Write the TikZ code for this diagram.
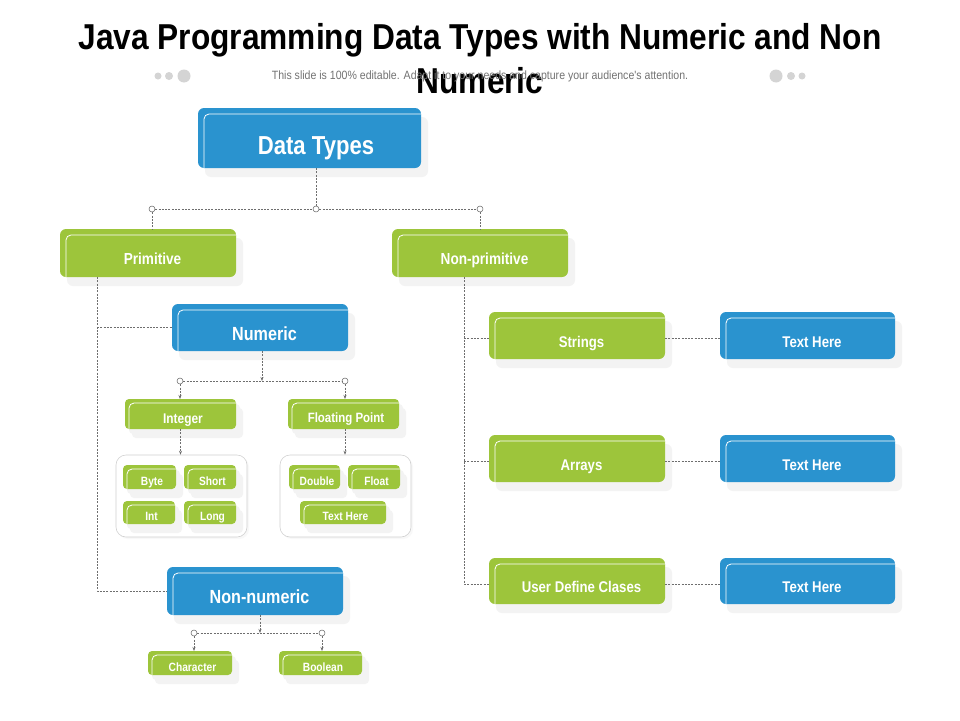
\documentclass[tikz,border=0pt]{standalone}
\usepackage{fontspec}
\usetikzlibrary{arrows.meta,shadows}
\newfontfamily\condfont[FakeStretch=0.85]{Liberation Sans}
\newfontfamily\titlefont[FakeStretch=0.88]{Liberation Sans}
\newfontfamily\subfont[FakeStretch=0.88]{Liberation Sans}
\definecolor{jblue}{RGB}{42,147,207}
\definecolor{jgreen}{RGB}{157,197,59}
\definecolor{conng}{RGB}{110,110,110}
\definecolor{shadg}{RGB}{243,243,243}
\definecolor{dotg}{RGB}{212,212,212}
\tikzset{
  inset/.style={path picture={\draw[white,line width=0.8pt,rounded corners=5pt]
    ([xshift=#1,yshift=-#1]path picture bounding box.north west) rectangle
    ([xshift=6pt,yshift=-6pt]path picture bounding box.south east);}},
  tbox/.style={rounded corners=6pt, inner sep=0pt, outer sep=0pt,
    drop shadow={shadow xshift=7pt, shadow yshift=-9pt, fill=shadg, opacity=1}},
  bigbox/.style={tbox, inset=6pt},
  smallbox/.style={tbox, inset=4pt, rounded corners=4pt,
    drop shadow={shadow xshift=4pt, shadow yshift=-5pt, fill=shadg, opacity=1}},
  bluebox/.style={fill=jblue},
  greenbox/.style={fill=jgreen},
  lbl/.style={text=white, inner sep=0pt, anchor=base},
  group/.style={draw=black!18, line width=0.6pt, fill=white, rounded corners=10pt,
    inner sep=0pt, drop shadow={shadow xshift=2pt, shadow yshift=-2pt, fill=shadg!60, opacity=1}},
  conn/.style={draw=conng, line width=0.55pt, dash pattern=on 2pt off 1.3pt},
  arr/.style={conn, -{Stealth[length=4pt,width=3pt]}},
  junc/.style={circle, draw=conng, fill=white, line width=0.55pt, inner sep=0pt, minimum size=6pt},
  dot/.style={circle, fill=dotg, inner sep=0pt},
}
% big box: style, x0, y0, x1, y1, name, fontsize, text
\newcommand\bbx[8]{\node[bigbox,#1, minimum width={#4-#2}, minimum height={#5-#3}]
  (#6) at ({(#2+#4)/2},{(#3+#5)/2}) {};
  \node[lbl, font=\condfont\bfseries\fontsize{#7}{#7}\selectfont]
  (#6-t) at ([xshift=4.5pt,yshift={-(6+0.36*#7)*1pt}]#6.center) {#8};}
\newcommand\sbx[8]{\node[smallbox,#1, minimum width={#4-#2}, minimum height={#5-#3}]
  (#6) at ({(#2+#4)/2},{(#3+#5)/2}) {};
  \node[lbl, font=\condfont\bfseries\fontsize{#7}{#7}\selectfont]
  (#6-t) at ([xshift=2.5pt,yshift={-(4+0.36*#7)*1pt}]#6.center) {#8};}
\begin{document}
\begin{tikzpicture}[x=1pt,y=-1pt]
\useasboundingbox (0,0) rectangle (960,720);
\fill[white] (0,0) rectangle (960,720);

% title
\node[font=\titlefont\bfseries\fontsize{36}{44}\selectfont, align=center, text width=900pt, inner sep=0pt, anchor=north] (title) at (480,23)
  {\spaceskip=8pt plus 1pt minus 1pt Java Programming Data Types with Numeric and Non\\Numeric};
\node[font=\subfont\fontsize{12}{14}\selectfont, text=black!55, inner sep=0pt] (sub) at (480,76)
  {This slide is 100\% editable. Adapt it to your needs and capture your audience's attention.};
\node[dot, minimum size=7pt] (dl1) at (158,76) {};
\node[dot, minimum size=8pt] (dl2) at (169,76) {};
\node[dot, minimum size=13pt] (dl3) at (184,76) {};
\node[dot, minimum size=13pt] (dr1) at (776,76) {};
\node[dot, minimum size=8pt] (dr2) at (791,76) {};
\node[dot, minimum size=7pt] (dr3) at (802,76) {};

% boxes
\node[bigbox,bluebox, minimum width=223pt, minimum height=60pt] (dt) at (309.5,138) {};
\node[lbl, font=\condfont\bfseries\fontsize{26}{26}\selectfont] (dt-t) at ([xshift=6.5pt,yshift={-(7+0.36*26)*1pt}]dt.center) {Data Types};
\bbx{greenbox}{60}{229}{236}{277}{prim}{16}{Primitive}
\bbx{greenbox}{392}{229}{568}{277}{nprim}{16}{Non-primitive}
\bbx{bluebox}{172}{304}{348}{351}{num}{19}{Numeric}
\bbx{bluebox}{167}{567}{343}{615}{nnum}{19}{Non-numeric}
\sbx{greenbox}{125}{399}{236}{429}{int}{14}{Integer}
\sbx{greenbox}{288}{399}{399}{429}{fp}{13.5}{Floating Point}

% groups
\node[group, minimum width=131pt, minimum height=82pt] (gl) at (181.5,496) {};
\node[group, minimum width=131pt, minimum height=82pt] (gr) at (345.5,496) {};
\sbx{greenbox}{123}{465}{176}{489}{byte}{12}{Byte}
\sbx{greenbox}{184}{465}{236}{489}{short}{12}{Short}
\sbx{greenbox}{123}{501}{175}{524}{intb}{12}{Int}
\sbx{greenbox}{184}{501}{236}{524}{long}{12}{Long}
\sbx{greenbox}{289}{465}{340}{489}{double}{12}{Double}
\sbx{greenbox}{348}{465}{400}{489}{float}{12}{Float}
\sbx{greenbox}{300}{501}{386}{524}{fth}{12}{Text Here}
\sbx{greenbox}{148}{651}{232}{675}{char}{12}{Character}
\sbx{greenbox}{279}{651}{362}{675}{bool}{12}{Boolean}

\bbx{greenbox}{489}{312}{665}{359}{str}{15.5}{Strings}
\bbx{greenbox}{489}{435}{665}{482}{arr}{15.5}{Arrays}
\bbx{greenbox}{489}{558}{665}{604}{udc}{15.5}{User Define Clases}
\bbx{bluebox}{720}{312}{895}{359}{th1}{15.5}{Text Here}
\bbx{bluebox}{720}{435}{895}{482}{th2}{15.5}{Text Here}
\bbx{bluebox}{720}{558}{895}{604}{th3}{15.5}{Text Here}

% junctions
\node[junc] (jm) at (316,209) {};
\node[junc] (jl) at (152,209) {};
\node[junc] (jr) at (480,209) {};
\node[junc] (jn1) at (180,381) {};
\node[junc] (jn2) at (345,381) {};
\node[junc] (jc1) at (194,633) {};
\node[junc] (jc2) at (322,633) {};
\coordinate (pvx) at (97,0);
\coordinate (npx) at (464,0);

% connectors
\draw[conn] ([xshift=6.5pt]dt.south) -- (jm);
\draw[conn] (jl) -- (jm) -- (jr);
\draw[conn] (jl) -- (jl |- prim.north);
\draw[conn] (jr) -- (jr |- nprim.north);
\draw[conn] (pvx |- prim.south) |- (nnum.west);
\draw[conn] (pvx |- num.west) -- (num.west);

\draw[arr] ([xshift=2pt]num.south) -- ([xshift=2pt]num.south |- jn1);
\draw[conn] (jn1) -- (jn2);
\draw[arr] (jn1) -- (jn1 |- int.north);
\draw[arr] (jn2) -- (jn2 |- fp.north);
\draw[arr] (int.south) -- (int.south |- gl.north);
\draw[arr] (jn2 |- fp.south) -- (jn2 |- gr.north);

\draw[arr] ([xshift=5pt]nnum.south) -- ([xshift=5pt]nnum.south |- jc1);
\draw[conn] (jc1) -- (jc2);
\draw[arr] (jc1) -- (jc1 |- char.north);
\draw[arr] (jc2) -- (jc2 |- bool.north);

\draw[conn] (npx |- nprim.south) |- ([yshift=-3pt]udc.west);
\draw[conn] (npx |- str.west) ++(0,3) -- ([yshift=-3pt]str.west);
\draw[conn] (npx |- arr.west) ++(0,3) -- ([yshift=-3pt]arr.west);
\draw[conn] ([yshift=-3pt]str.east) -- ([yshift=-3pt]th1.west);
\draw[conn] ([yshift=-3pt]arr.east) -- ([yshift=-3pt]th2.west);
\draw[conn] ([yshift=-3pt]udc.east) -- ([yshift=-3pt]th3.west);
\end{tikzpicture}
\end{document}
